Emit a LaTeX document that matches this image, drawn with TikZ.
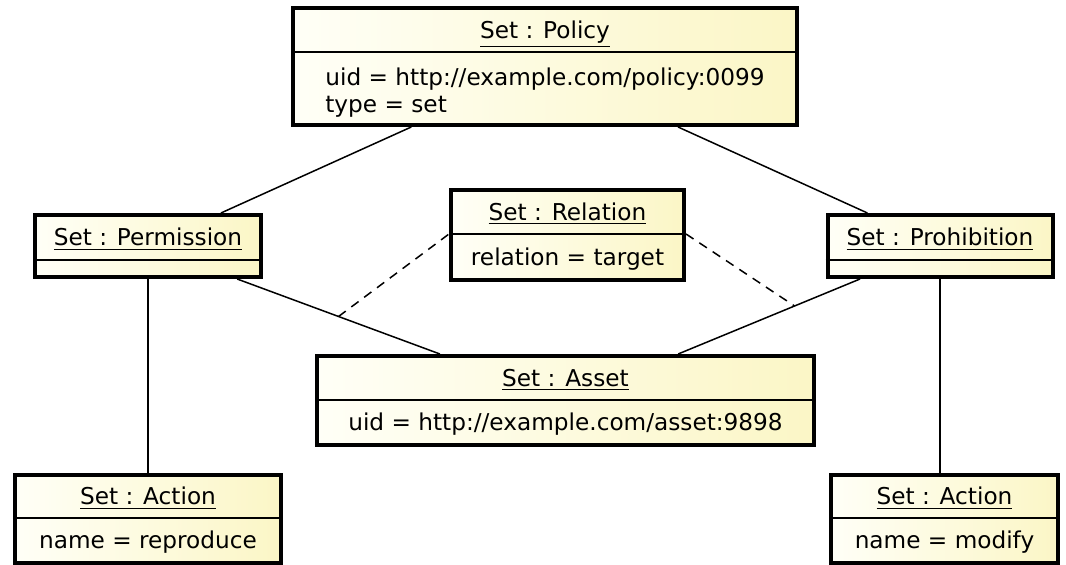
\documentclass[tikz,border=0pt]{standalone}
\usepackage{fontspec}
\setmainfont{DejaVu Sans}
\usetikzlibrary{shapes.multipart, positioning}
\definecolor{objLeft}{RGB}{255,255,247}
\definecolor{objRight}{RGB}{251,246,198}
\newcommand{\partsize}[2]{\rule[-#2]{0pt}{\dimexpr#1+#2\relax}}
\tikzstyle{umlObject} = [rectangle split, rectangle split parts=2,
   rectangle split draw splits=false, draw, line width=2pt,
   left color=objLeft, right color=objRight,
   inner xsep=0pt, inner ysep=0pt, align=center]
\tikzstyle{umlSplit} = [line width=0.75pt]
\tikzstyle{umlLink} = [line width=0.75pt]
\tikzstyle{umlDashed} = [line width=0.75pt, dash pattern=on 4.5pt off 3.5pt]

\begin{document}
\begin{tikzpicture}[x=0.5pt, y=-0.5pt, font=\fontsize{11.6pt}{13.5pt}\selectfont]
	  \useasboundingbox (0,0) rectangle (1066,565);

	  \node[umlObject, minimum width=252pt, align=left] (policy) at (545,66.5)
	    {\partsize{14.2pt}{5.8pt}\underline{Set : Policy}
	     \nodepart{two}\partsize{16pt}{0pt}uid = http://example.com/policy:0099\\
	     type = set\partsize{0pt}{5pt}};
	  \node[umlObject, minimum width=113pt] (permission) at (148,246)
	    {\partsize{14.45pt}{6.05pt}\underline{Set : Permission}
	     \nodepart{two}\partsize{6.5pt}{0pt}};
	  \node[umlObject, minimum width=116.5pt] (relation) at (567.5,235)
	    {\partsize{14.2pt}{5.8pt}\underline{Set : Relation}
	     \nodepart{two}\partsize{14.7pt}{6.3pt}relation = target};
	  \node[umlObject, minimum width=112.5pt] (prohibition) at (940,246)
	    {\partsize{14.45pt}{6.05pt}\underline{Set : Prohibition}
	     \nodepart{two}\partsize{6.5pt}{0pt}};
	  \node[umlObject, minimum width=248.5pt] (asset) at (565.5,400.5)
	    {\partsize{14.2pt}{5.8pt}\underline{Set : Asset}
	     \nodepart{two}\partsize{14.45pt}{6.05pt}uid = http://example.com/asset:9898};
	  \node[umlObject, minimum width=133pt] (actionL) at (148,519)
	    {\partsize{13.95pt}{5.55pt}\underline{Set : Action}
	     \nodepart{two}\partsize{14.45pt}{6.05pt}name = reproduce};
	  \node[umlObject, minimum width=113.5pt] (actionR) at (944.5,519)
	    {\partsize{13.95pt}{5.55pt}\underline{Set : Action}
	     \nodepart{two}\partsize{14.45pt}{6.05pt}name = modify};

	  % thin lines between the two compartments
	  \foreach \obj in {policy, permission, relation, prohibition, asset, actionL, actionR}
	    \draw[umlSplit] (\obj.text split west) -- (\obj.text split east);

	  % associations
	  \draw[umlLink] (policy) -- (permission);
	  \draw[umlLink] (policy) -- (prohibition);
	  \draw[umlLink] (permission) -- coordinate[pos=0.5] (permAsset) (asset);
	  \draw[umlLink] (prohibition) -- coordinate[pos=0.36] (prohAsset) (asset);
	  \draw[umlLink] (permission) -- (actionL);
	  \draw[umlLink] (prohibition) -- (prohibition |- actionR.north);

	  % association class
	  \draw[umlDashed] (permAsset) -- (relation.text split west);
	  \draw[umlDashed] (relation.text split east) -- (prohAsset);
	\end{tikzpicture}
\end{document}
